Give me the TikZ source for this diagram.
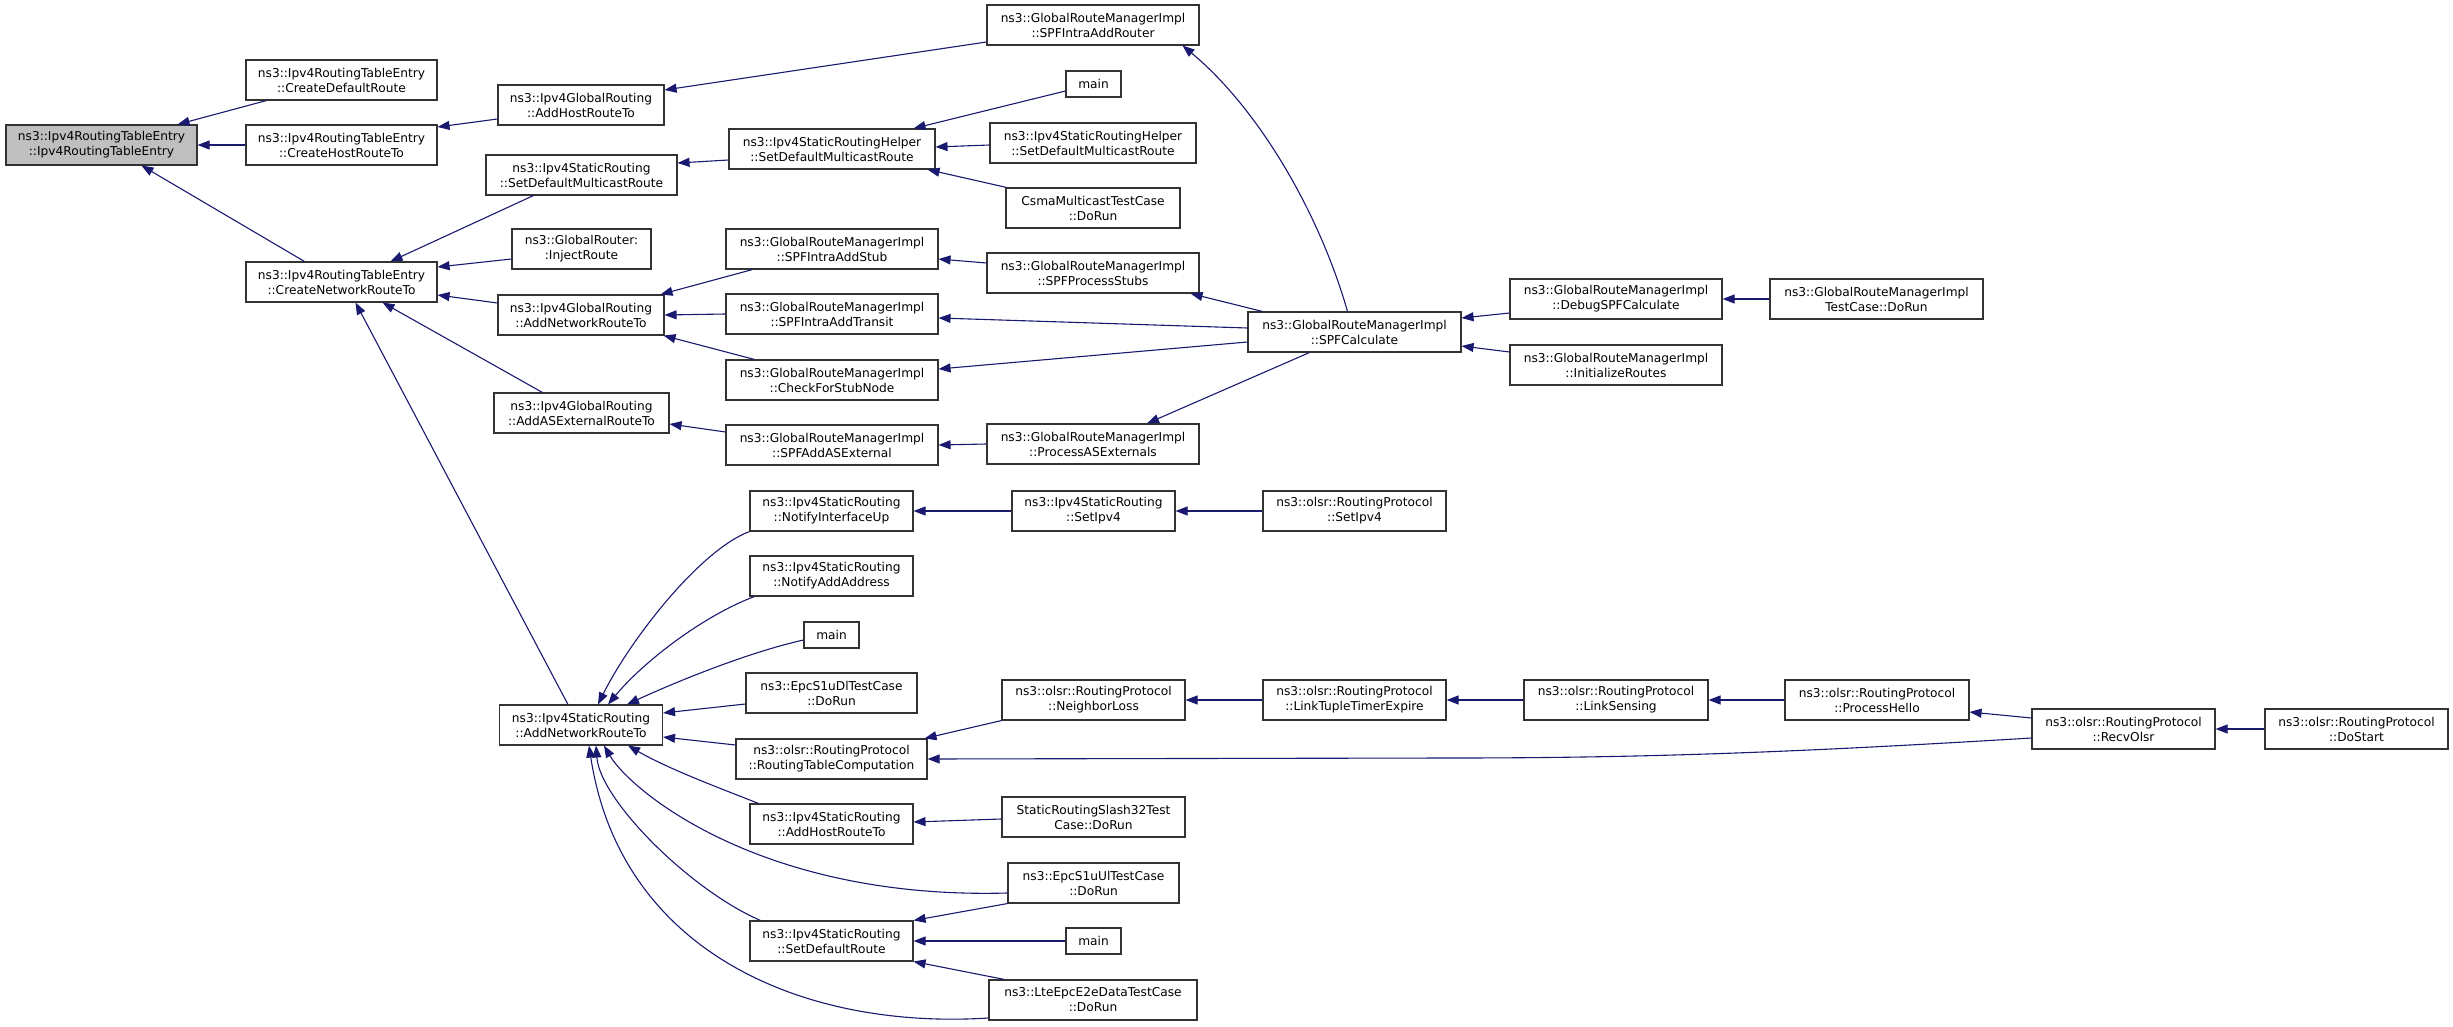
\documentclass[tikz,border=0pt]{standalone}
\usepackage{fontspec}
\setmainfont{DejaVu Sans}
\usetikzlibrary{arrows.meta}
\definecolor{edgec}{HTML}{191970}
\newcommand\nd[5]{\node[box,minimum width=#4pt] (#1) at (#2,#3) {#5};}
\begin{document}
\begin{tikzpicture}[x=1pt,y=-1pt,
  box/.style={draw=black!80, line width=1.1pt, rectangle, inner sep=0pt, minimum height=40pt, align=center, font=\fontsize{12.2}{15}\selectfont},
  edge/.style={draw=edgec, line width=1.1pt, -{Triangle[length=12pt,width=9pt]}}]
\useasboundingbox (0,0) rectangle (2453,1027);
% column 0
\node[box,fill=black!25,minimum width=191pt] (root) at (101.5,145) {ns3::Ipv4RoutingTableEntry\\::Ipv4RoutingTableEntry};
% column 1
\nd{cdr}{341.5}{80}{191}{ns3::Ipv4RoutingTableEntry\\::CreateDefaultRoute}
\nd{chr}{341.5}{145}{191}{ns3::Ipv4RoutingTableEntry\\::CreateHostRouteTo}
\nd{cnr}{341.5}{282}{191}{ns3::Ipv4RoutingTableEntry\\::CreateNetworkRouteTo}
% column 2
\nd{gahr}{581}{105}{166}{ns3::Ipv4GlobalRouting\\::AddHostRouteTo}
\nd{sdmr}{581.5}{175}{191}{ns3::Ipv4StaticRouting\\::SetDefaultMulticastRoute}
\nd{inj}{581.5}{249}{139}{ns3::GlobalRouter:\\:InjectRoute}
\nd{ganr}{581}{315}{166}{ns3::Ipv4GlobalRouting\\::AddNetworkRouteTo}
\nd{gaer}{581.5}{413}{175}{ns3::Ipv4GlobalRouting\\::AddASExternalRouteTo}
\nd{sanr}{581}{725}{163}{ns3::Ipv4StaticRouting\\::AddNetworkRouteTo}
% column 3
\nd{help1}{832}{149}{206}{ns3::Ipv4StaticRoutingHelper\\::SetDefaultMulticastRoute}
\nd{stub}{832}{249}{212}{ns3::GlobalRouteManagerImpl\\::SPFIntraAddStub}
\nd{transit}{832}{314}{212}{ns3::GlobalRouteManagerImpl\\::SPFIntraAddTransit}
\nd{cfsn}{832}{380}{212}{ns3::GlobalRouteManagerImpl\\::CheckForStubNode}
\nd{spfase}{832}{445}{212}{ns3::GlobalRouteManagerImpl\\::SPFAddASExternal}
\nd{niu}{831.5}{511}{163}{ns3::Ipv4StaticRouting\\::NotifyInterfaceUp}
\nd{naa}{831.5}{576}{163}{ns3::Ipv4StaticRouting\\::NotifyAddAddress}
\node[box,minimum width=55pt,minimum height=26pt] (main2) at (831.5,635) {main};
\nd{dl}{831.5}{693}{171}{ns3::EpcS1uDlTestCase\\::DoRun}
\nd{rtc}{831.5}{759}{191}{ns3::olsr::RoutingProtocol\\::RoutingTableComputation}
\nd{sahr}{831.5}{824}{163}{ns3::Ipv4StaticRouting\\::AddHostRouteTo}
\nd{sdr}{831.5}{941}{163}{ns3::Ipv4StaticRouting\\::SetDefaultRoute}
% column 4
\nd{router}{1093}{25}{212}{ns3::GlobalRouteManagerImpl\\::SPFIntraAddRouter}
\node[box,minimum width=55pt,minimum height=26pt] (main1) at (1093.5,84) {main};
\nd{help2}{1093}{143}{206}{ns3::Ipv4StaticRoutingHelper\\::SetDefaultMulticastRoute}
\nd{csma}{1093}{208}{174}{CsmaMulticastTestCase\\::DoRun}
\nd{pstubs}{1093}{273}{212}{ns3::GlobalRouteManagerImpl\\::SPFProcessStubs}
\nd{pase}{1093}{444}{212}{ns3::GlobalRouteManagerImpl\\::ProcessASExternals}
\nd{ssetipv4}{1093.5}{511}{163}{ns3::Ipv4StaticRouting\\::SetIpv4}
\nd{nloss}{1093.5}{700}{183}{ns3::olsr::RoutingProtocol\\::NeighborLoss}
\nd{slash32}{1093.5}{817}{183}{StaticRoutingSlash32Test\\Case::DoRun}
\nd{ul}{1093.5}{883}{171}{ns3::EpcS1uUlTestCase\\::DoRun}
\node[box,minimum width=55pt,minimum height=26pt] (main3) at (1093.5,941) {main};
\nd{lte}{1093}{1000}{208}{ns3::LteEpcE2eDataTestCase\\::DoRun}
% column 5
\nd{spfcalc}{1354.5}{332}{213}{ns3::GlobalRouteManagerImpl\\::SPFCalculate}
\nd{osetipv4}{1354.5}{511}{183}{ns3::olsr::RoutingProtocol\\::SetIpv4}
\nd{ltte}{1354.5}{700}{183}{ns3::olsr::RoutingProtocol\\::LinkTupleTimerExpire}
% column 6
\nd{debug}{1616}{299}{212}{ns3::GlobalRouteManagerImpl\\::DebugSPFCalculate}
\nd{init}{1616}{365}{212}{ns3::GlobalRouteManagerImpl\\::InitializeRoutes}
\nd{lsens}{1616}{700}{184}{ns3::olsr::RoutingProtocol\\::LinkSensing}
% column 7
\nd{tcdorun}{1876.5}{299}{213}{ns3::GlobalRouteManagerImpl\\TestCase::DoRun}
\nd{phello}{1877}{700}{184}{ns3::olsr::RoutingProtocol\\::ProcessHello}
% column 8-9
\nd{recv}{2123.5}{729}{183}{ns3::olsr::RoutingProtocol\\::RecvOlsr}
\nd{dostart}{2356.5}{729}{183}{ns3::olsr::RoutingProtocol\\::DoStart}

% edges
\draw[edge] ([xshift=21pt]cdr.south west) -- ([xshift=-20pt]root.north east);
\draw[edge] (chr.west) -- (root.east);
\draw[edge] ([xshift=59pt]cnr.north west) -- ([xshift=40pt]root.south);
\draw[edge] ([yshift=-14pt]gahr.west) -- ([yshift=18pt]chr.east);
\draw[edge] ([yshift=-17pt]router.west) -- ([yshift=15pt]gahr.east);
\draw[edge] ([xshift=48pt]sdmr.south west) -- ([xshift=-47pt]cnr.north east);
\draw[edge] ([yshift=-10pt]inj.west) -- ([yshift=15pt]cnr.east);
\draw[edge] ([yshift=12pt]ganr.west) -- ([yshift=-13pt]cnr.east);
\draw[edge] ([xshift=49pt]gaer.north west) -- ([xshift=-55pt]cnr.south east);
\draw[edge] ([xshift=69pt]sanr.north west) -- ([xshift=14pt]cnr.south);
\draw[edge] ([yshift=-11pt]help1.west) -- ([yshift=12pt]sdmr.east);
\draw[edge] ([yshift=-7pt]main1.west) -- ([xshift=-22pt]help1.north east);
\draw[edge] ([yshift=-2pt]help2.west) -- ([yshift=2pt]help1.east);
\draw[edge] ([xshift=1pt]csma.north west) -- ([xshift=-8pt]help1.south east);
\draw[edge] ([xshift=27pt]stub.south west) -- ([xshift=-4pt]ganr.north east);
\draw[edge] (transit.west) -- (ganr.east);
\draw[edge] ([xshift=29pt]cfsn.north west) -- ([xshift=-1pt]ganr.south east);
\draw[edge] ([yshift=13pt]spfase.west) -- ([yshift=-11pt]gaer.east);
\draw[edge] (pase.west) -- (spfase.east);
\draw[edge] ([yshift=10pt]pstubs.west) -- ([yshift=-10pt]stub.east);
\draw[edge] ([xshift=-7pt]spfcalc.north) .. controls (1320,215) and (1260,110) .. ([xshift=-17pt]router.south east);
\draw[edge] ([xshift=15pt]spfcalc.north west) -- ([xshift=-9pt]pstubs.south east);
\draw[edge] ([yshift=4pt]spfcalc.west) -- ([yshift=-4pt]transit.east);
\draw[edge] ([yshift=-10pt]spfcalc.west) -- ([yshift=11pt]cfsn.east);
\draw[edge] ([xshift=62pt]spfcalc.south west) -- ([xshift=54pt]pase.north);
\draw[edge] ([yshift=-14pt]debug.west) -- ([yshift=14pt]spfcalc.east);
\draw[edge] ([yshift=13pt]init.west) -- ([yshift=-14pt]spfcalc.east);
\draw[edge] (tcdorun.west) -- (debug.east);
\draw[edge] (niu.south west) .. controls (700,550) and (630,640) .. ([xshift=17pt]sanr.north);
\draw[edge] ([xshift=5pt]naa.south west) .. controls (705,615) and (645,660) .. ([xshift=27pt]sanr.north);
\draw[edge] ([yshift=-5pt]main2.west) .. controls (750,652) and (680,680) .. ([xshift=46pt]sanr.north);
\draw[edge] ([yshift=-11pt]dl.west) -- ([yshift=12pt]sanr.east);
\draw[edge] ([yshift=14pt]rtc.west) -- ([yshift=-12pt]sanr.east);
\draw[edge] ([xshift=9pt]sahr.north west) .. controls (730,792) and (670,770) .. ([xshift=-35pt]sanr.south east);
\draw[edge] ([yshift=-10pt]ul.west) .. controls (760,900) and (630,790) .. ([xshift=23pt]sanr.south);
\draw[edge] ([xshift=11pt]sdr.north west) .. controls (690,890) and (600,800) .. ([xshift=15pt]sanr.south);
\draw[edge] ([yshift=-18pt]lte.west) .. controls (800,1030) and (620,950) .. ([xshift=8pt]sanr.south);
\draw[edge] (ssetipv4.west) -- (niu.east);
\draw[edge] (osetipv4.west) -- (ssetipv4.east);
\draw[edge] (nloss.south west) -- ([xshift=-3pt]rtc.north east);
\draw[edge] ([yshift=-9pt]recv.west) .. controls (1800,752) and (1650,758) .. (1450,758) -- (rtc.east);
\draw[edge] (ltte.west) -- (nloss.east);
\draw[edge] (lsens.west) -- (ltte.east);
\draw[edge] (phello.west) -- (lsens.east);
\draw[edge] ([yshift=11pt]recv.west) -- ([yshift=-12pt]phello.east);
\draw[edge] (dostart.west) -- (recv.east);
\draw[edge] ([yshift=-2pt]slash32.west) -- ([yshift=2pt]sahr.east);
\draw[edge] (ul.south west) -- (sdr.north east);
\draw[edge] (main3.west) -- (sdr.east);
\draw[edge] ([xshift=16pt]lte.north west) -- (sdr.south east);
\end{tikzpicture}
\end{document}
